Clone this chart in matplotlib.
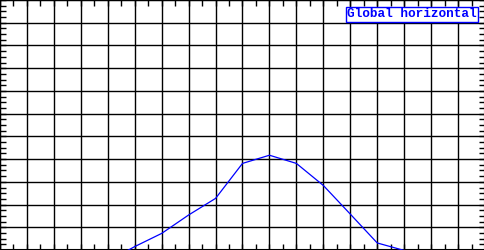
import matplotlib
matplotlib.use("Agg")
import matplotlib.pyplot as plt
from matplotlib.ticker import MultipleLocator

# Data (hour of day, global horizontal irradiance W/m^2)
hours = [7, 8, 9, 10, 11, 12, 13, 14, 15, 16, 17, 18]
ghi = [-50, 15, 73, 154, 227, 381, 417, 381, 284, 158, 31, -2]
series_label = "Global horizontal"

x_range = (3, 21)
y_range = (0, 1100)

fig = plt.figure(figsize=(4.85, 2.5), dpi=100)
ax = fig.add_axes([0, 0, 1, 1])
ax.plot(hours, ghi, color="#0000ff", lw=0.9, label=series_label, zorder=3)

ax.set_xlim(*x_range)
ax.set_ylim(*y_range)
ax.xaxis.set_major_locator(MultipleLocator(1))
ax.xaxis.set_minor_locator(MultipleLocator(0.5))
ax.yaxis.set_major_locator(MultipleLocator(100))
ax.yaxis.set_minor_locator(MultipleLocator(25))
ax.grid(True, which="major", color="black", lw=1.0, zorder=1)
ax.tick_params(which="both", direction="in", top=True, right=True,
               labelbottom=False, labelleft=False, color="black")
ax.tick_params(which="major", length=4, width=1)
ax.tick_params(which="minor", length=4, width=1)
for s in ax.spines.values():
    s.set_color("black")
    s.set_linewidth(1.5)

leg = ax.legend(loc="upper right", handlelength=0, handletextpad=0,
                labelcolor="#0000ff", fancybox=False, framealpha=1,
                edgecolor="#0000ff", borderpad=0.1, borderaxespad=0.55,
                prop={"family": "Liberation Mono", "size": 9.2, "weight": "bold"})
for h in leg.legend_handles:
    h.set_visible(False)
leg.get_frame().set_linewidth(1.0)

fig.savefig("out.png", dpi=100)
